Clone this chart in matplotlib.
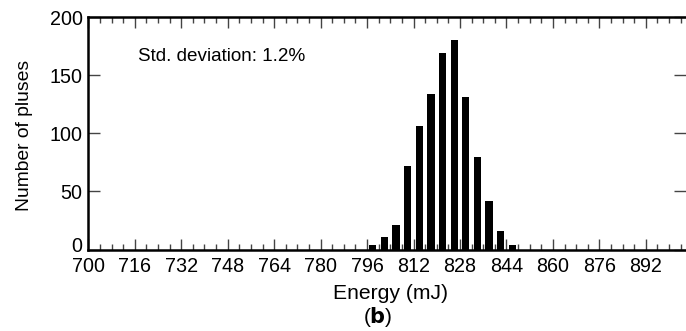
import numpy as np
import matplotlib.pyplot as plt
from matplotlib.ticker import MultipleLocator
from matplotlib.transforms import ScaledTranslation

plt.rcParams['font.family'] = ['Liberation Sans', 'DejaVu Sans']

# 4 mJ bins, centres
energy = [798, 802, 806, 810, 814, 818, 822, 826, 830, 834, 838, 842, 846]
counts = [4, 11, 21, 72, 106, 134, 169, 180, 131, 80, 42, 16, 4]
xticks = [700, 716, 732, 748, 764, 780, 796, 812, 828, 844, 860, 876, 892]
yticks = [0, 50, 100, 150, 200]

fig = plt.figure(figsize=(6.86, 3.31), dpi=100)
ax = fig.add_axes([0.1287, 0.246, 0.872, 0.702])

ax.bar(energy, counts, width=2.5, color='black', zorder=3)

ax.set_xlim(700, 906)
ax.set_ylim(0, 200)
ax.set_xticks(xticks)
ax.xaxis.set_minor_locator(MultipleLocator(4))
ax.set_yticks(yticks)

ax.tick_params(axis='both', which='both', direction='in', top=True, right=True,
               labelsize=14.2, width=1, color='#444444')
ax.tick_params(axis='x', which='major', length=8, pad=5)
ax.tick_params(axis='x', which='minor', length=4)
ax.tick_params(axis='y', which='major', length=8.5, pad=4)
for s in ax.spines.values():
    s.set_linewidth(1.8)
ax.spines['right'].set_visible(False)  # cut off at the image edge in the original

# lift the "0" a little so it clears the "700"
lab0 = ax.yaxis.get_major_ticks()[0].label1
lab0.set_transform(lab0.get_transform() + ScaledTranslation(0, 0.05, fig.dpi_scale_trans))

ax.set_xlabel('Energy (mJ)', fontsize=15.2)
ax.xaxis.set_label_coords(0.505, -0.147)
ax.set_ylabel('Number of pluses', fontsize=13.9)
ax.yaxis.set_label_coords(-0.093, 0.493)
ax.text(717, 166, 'Std. deviation: 1.2%', fontsize=13.6, va='center', ha='left')
fig.text(0.55, 0.006, r'($\mathbf{b}$)', fontsize=15, ha='center', va='bottom')

plt.savefig('out.png', dpi=100)
